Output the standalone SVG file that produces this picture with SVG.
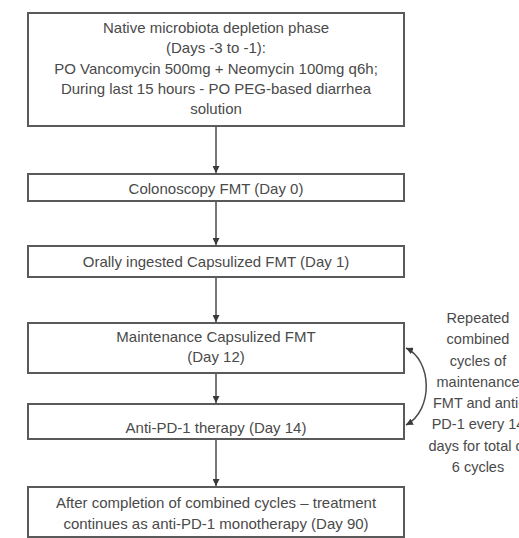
<svg xmlns="http://www.w3.org/2000/svg" width="519" height="538" viewBox="0 0 519 538">
<defs>
<style>
.box{fill:#fff;stroke:#5a5a5a;stroke-width:2}
.t{font-family:"Liberation Sans",Arial,sans-serif;font-size:15px;fill:#4a4a4a;text-anchor:middle}
.n{font-size:14.5px}
.c{fill:none;stroke:#4a4a4a;stroke-width:1.5}
</style>
<marker id="ah" viewBox="0 0 10 10" refX="10" refY="5" markerWidth="7" markerHeight="7" orient="auto-start-reverse" markerUnits="userSpaceOnUse">
<path d="M0,0 L10,5 L0,10 z" fill="#3a3a3a"/>
</marker>
</defs>
<rect width="519" height="538" fill="#fff"/>
<g id="connectors">
<line class="c" x1="216" y1="126" x2="216" y2="173" marker-end="url(#ah)"/>
<line class="c" x1="216" y1="201" x2="216" y2="245" marker-end="url(#ah)"/>
<line class="c" x1="216" y1="277" x2="216" y2="322" marker-end="url(#ah)"/>
<line class="c" x1="216" y1="373" x2="216" y2="403" marker-end="url(#ah)"/>
<line class="c" x1="216" y1="439" x2="216" y2="486" marker-end="url(#ah)"/>
<path class="c" d="M406,348 C432,360 434,410 406,425" marker-start="url(#ah)" marker-end="url(#ah)"/>
</g>
<g id="n1">
<rect class="box" x="28" y="13" width="376" height="113"/>
<text class="t" x="216" y="33">Native microbiota depletion phase</text>
<text class="t" x="216" y="53">(Days -3 to -1):</text>
<text class="t" x="216" y="74">PO Vancomycin 500mg + Neomycin 100mg q6h;</text>
<text class="t" x="216" y="94">During last 15 hours - PO PEG-based diarrhea</text>
<text class="t" x="216" y="114">solution</text>
</g>
<g id="n2">
<rect class="box" x="28" y="174" width="376" height="27"/>
<text class="t" x="216" y="194">Colonoscopy FMT (Day 0)</text>
</g>
<g id="n3">
<rect class="box" x="28" y="246" width="376" height="31"/>
<text class="t" x="216" y="267">Orally ingested Capsulized FMT (Day 1)</text>
</g>
<g id="n4">
<rect class="box" x="28" y="323" width="376" height="50"/>
<text class="t" x="216" y="342">Maintenance Capsulized FMT</text>
<text class="t" x="216" y="362">(Day 12)</text>
</g>
<g id="n5">
<rect class="box" x="28" y="404" width="376" height="35"/>
<text class="t" x="216" y="433">Anti-PD-1 therapy (Day 14)</text>
</g>
<g id="n6">
<rect class="box" x="28" y="487" width="376" height="50"/>
<text class="t" x="216" y="508">After completion of combined cycles – treatment</text>
<text class="t" x="216" y="529">continues as anti-PD-1 monotherapy (Day 90)</text>
</g>
<g id="note">
<text class="t n" x="478" y="323">Repeated</text>
<text class="t n" x="478" y="344">combined</text>
<text class="t n" x="478" y="366">cycles of</text>
<text class="t n" x="478" y="387">maintenance</text>
<text class="t n" x="478" y="408">FMT and anti-</text>
<text class="t n" x="478" y="429">PD-1 every 14</text>
<text class="t n" x="478" y="451">days for total of</text>
<text class="t n" x="478" y="472">6 cycles</text>
</g>
</svg>
